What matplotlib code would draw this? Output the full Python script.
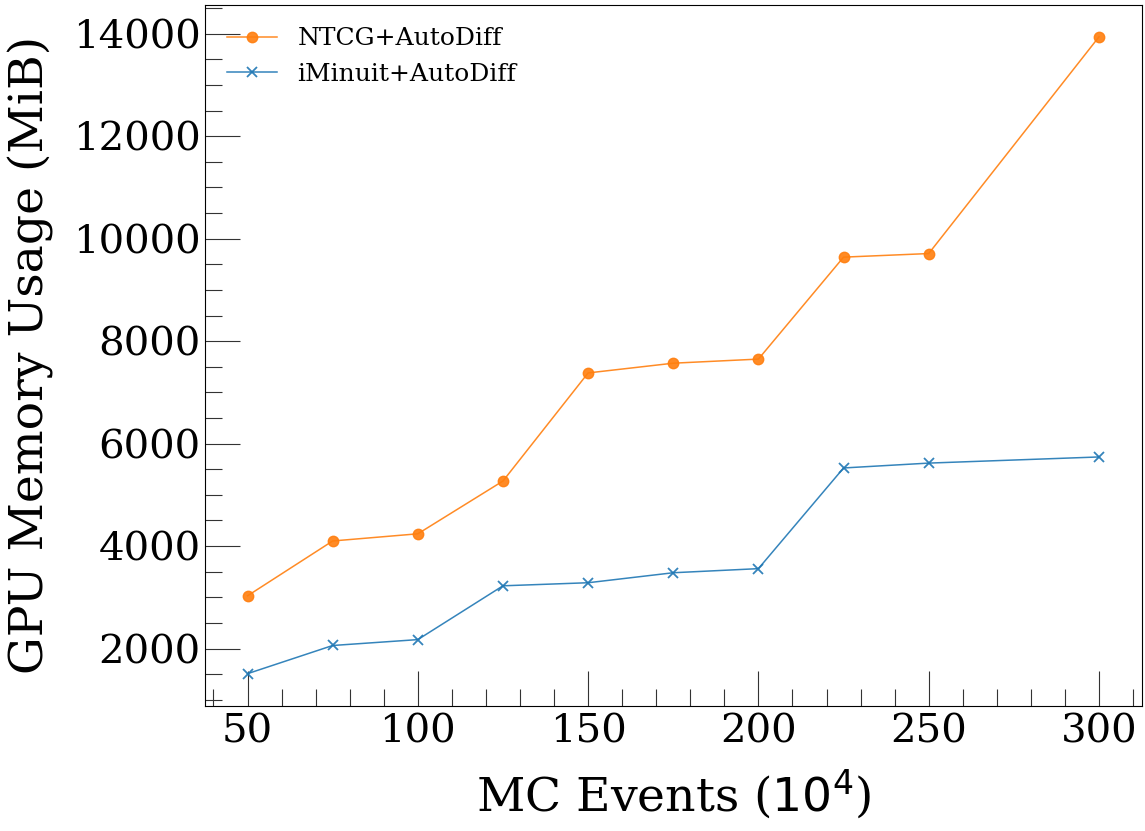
import numpy as np
import matplotlib
matplotlib.use("Agg")
import matplotlib.pyplot as plt
from matplotlib.ticker import MultipleLocator

# donnees
mc_events = [50, 75, 100, 125, 150, 175, 200, 225, 250, 300]
ntcg_mem = [3030, 4100, 4240, 5270, 7380, 7570, 7650, 9640, 9710, 13940]
iminuit_mem = [1510, 2060, 2175, 3225, 3285, 3480, 3560, 5525, 5620, 5740]

plt.rcParams['font.family'] = ['DejaVu Serif']

fig, ax = plt.subplots(figsize=(11.45, 8.31), dpi=100)

ax.plot(mc_events, ntcg_mem, '-o', color='tab:orange', lw=1.1, ms=7.5,
        alpha=0.9, label='NTCG+AutoDiff')
ax.plot(mc_events, iminuit_mem, '-x', color='tab:blue', lw=1.1, ms=7.5,
        mew=1.3, alpha=0.9, label='iMinuit+AutoDiff')

ax.set_xlabel(r'MC Events ($10^4$)', fontsize=34, labelpad=12)
ax.set_ylabel('GPU Memory Usage (MiB)', fontsize=34, labelpad=14)

ax.xaxis.set_major_locator(MultipleLocator(50))
ax.xaxis.set_minor_locator(MultipleLocator(10))
ax.yaxis.set_major_locator(MultipleLocator(2000))
ax.yaxis.set_minor_locator(MultipleLocator(500))
ax.tick_params(which='major', direction='in', length=25, width=0.8,
               labelsize=29, color='#333333')
ax.tick_params(axis='x', which='major', pad=6)
ax.tick_params(axis='y', which='major', pad=3)
ax.tick_params(which='minor', direction='in', length=12, width=0.8,
               color='#333333')

ax.legend(loc='upper left', frameon=False, fontsize=18)

fig.subplots_adjust(left=0.179, right=0.997, top=0.994, bottom=0.151)
fig.savefig('out.png', dpi=100)
